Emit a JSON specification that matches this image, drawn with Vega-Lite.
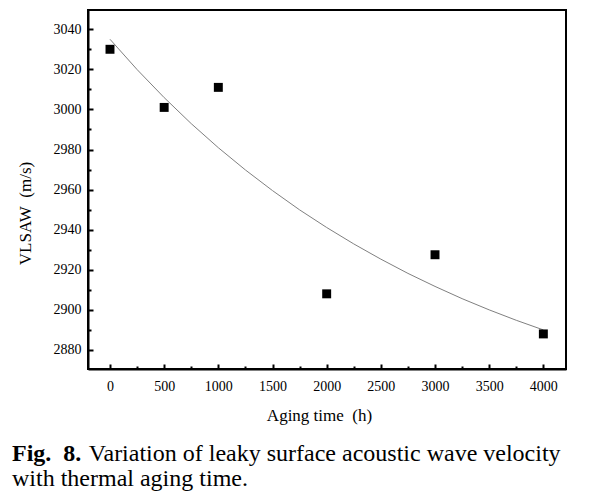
{
  "$schema": "https://vega.github.io/schema/vega-lite/v6.json",
  "width": 478,
  "height": 359,
  "autosize": {"type": "none"},
  "padding": {"left": 88, "top": 10, "right": 24, "bottom": 130},
  "background": "white",
  "config": {
    "view": {"stroke": "black", "strokeWidth": 2},
    "font": "Liberation Serif",
    "axis": {
      "grid": false,
      "domainColor": "black",
      "domainWidth": 2,
      "tickColor": "black",
      "tickWidth": 2,
      "labelColor": "black",
      "labelFont": "Liberation Serif",
      "labelFontSize": 14,
      "titleColor": "black",
      "titleFont": "Liberation Serif",
      "titleFontSize": 17,
      "titleFontWeight": "normal"
    }
  },
  "title": {
    "text": "Fig.\u00a0 8.",
    "subtitle": ["\u200b\u00a0\u00a0\u00a0\u00a0\u00a0\u00a0\u00a0\u00a0\u00a0\u00a0\u00a0\u00a0\u2009Variation of leaky surface acoustic wave velocity", "with thermal aging time."],
    "orient": "bottom",
    "anchor": "start",
    "frame": "group",
    "dx": -76,
    "offset": 19,
    "font": "Liberation Serif",
    "fontSize": 24,
    "fontWeight": "bold",
    "color": "black",
    "subtitleFont": "Liberation Serif",
    "subtitleFontSize": 24,
    "subtitleFontWeight": "normal",
    "subtitleColor": "black",
    "subtitlePadding": -24,
    "subtitleLineHeight": 25
  },
  "datasets": {
    "measured": [
      {"time": 0, "velocity": 3030},
      {"time": 500, "velocity": 3001},
      {"time": 1000, "velocity": 3011},
      {"time": 2000, "velocity": 2908},
      {"time": 3000, "velocity": 2927.5},
      {"time": 4000, "velocity": 2888}
    ],
    "fit": [
      {"time": 0, "velocity": 3035.0},
      {"time": 250, "velocity": 3019.9},
      {"time": 500, "velocity": 3005.9},
      {"time": 750, "velocity": 2992.9},
      {"time": 1000, "velocity": 2980.9},
      {"time": 1250, "velocity": 2969.8},
      {"time": 1500, "velocity": 2959.5},
      {"time": 1750, "velocity": 2949.9},
      {"time": 2000, "velocity": 2941.1},
      {"time": 2250, "velocity": 2932.9},
      {"time": 2500, "velocity": 2925.3},
      {"time": 2750, "velocity": 2918.2},
      {"time": 3000, "velocity": 2911.7},
      {"time": 3250, "velocity": 2905.6},
      {"time": 3500, "velocity": 2900.0},
      {"time": 3750, "velocity": 2894.8},
      {"time": 4000, "velocity": 2890.0}
    ]
  },
  "layer": [
    {
      "data": {"name": "fit"},
      "mark": {"type": "line", "color": "#808080", "strokeWidth": 1},
      "encoding": {
        "x": {
          "field": "time", "type": "quantitative",
          "scale": {"domain": [-203, 4209], "nice": false, "zero": false},
          "axis": {
            "orient": "bottom",
            "values": [0, 500, 1000, 1500, 2000, 2500, 3000, 3500, 4000],
            "format": "d",
            "tickSize": -5,
            "labelPadding": 15,
            "labelFlush": false,
            "title": "Aging time\u00a0 (h)",
            "titleX": 231,
            "titleY": 46,
            "titleAlign": "center",
            "titleBaseline": "middle"
          }
        },
        "y": {
          "field": "velocity", "type": "quantitative",
          "scale": {"domain": [2870.5, 3049.6], "nice": false, "zero": false},
          "axis": {
            "orient": "left",
            "values": [2880, 2900, 2920, 2940, 2960, 2980, 3000, 3020, 3040],
            "format": "d",
            "tickSize": -5,
            "labelPadding": 12,
            "labelFlush": false,
            "title": "VLSAW\u00a0 (m/s)",
            "titleX": -63,
            "titleY": 203,
            "titleAngle": -90,
            "titleAlign": "center",
            "titleBaseline": "middle"
          }
        }
      }
    },
    {
      "data": {"name": "measured"},
      "mark": {"type": "square", "size": 80, "color": "black", "opacity": 1},
      "encoding": {
        "x": {
          "field": "time", "type": "quantitative",
          "axis": {
            "orient": "bottom",
            "values": [250, 750, 1250, 1750, 2250, 2750, 3250, 3750],
            "tickSize": -3,
            "labels": false,
            "domain": false,
            "title": null
          }
        },
        "y": {
          "field": "velocity", "type": "quantitative",
          "axis": {
            "orient": "left",
            "values": [2890, 2910, 2930, 2950, 2970, 2990, 3010, 3030],
            "tickSize": -3,
            "labels": false,
            "domain": false,
            "title": null
          }
        }
      }
    }
  ],
  "resolve": {"axis": {"x": "independent", "y": "independent"}}
}
